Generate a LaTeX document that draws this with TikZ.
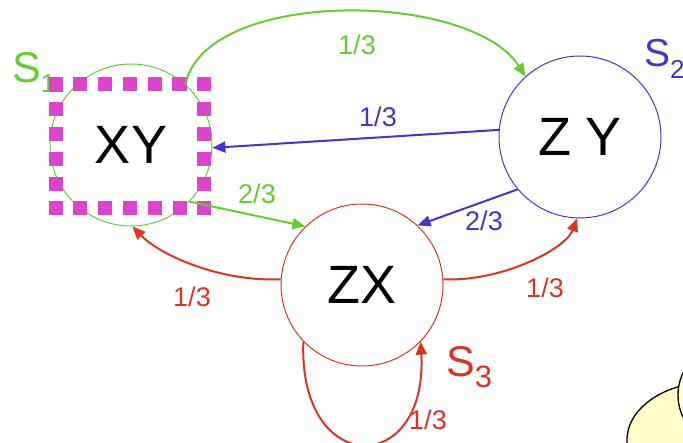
\documentclass[tikz,border=0pt]{standalone}
\usepackage{fontspec}
\setmainfont{Liberation Sans}
\usetikzlibrary{arrows.meta}
\definecolor{cgreen}{HTML}{66CC33}
\definecolor{cblue}{HTML}{4433CC}
\definecolor{cred}{HTML}{DD3322}
\definecolor{cmag}{HTML}{DD44CC}
\definecolor{ccloud}{HTML}{FFFFCC}
\begin{document}
\begin{tikzpicture}[x=1pt,y=-1pt,
 state/.style={circle, draw, line width=1pt, minimum size=162pt, inner sep=0pt, font=\fontsize{54}{54}\selectfont},
 edge/.style={line width=2pt, -{Triangle[length=13pt,width=11pt]}},
 lbl/.style={font=\fontsize{27}{27}\selectfont, inner sep=0pt},
 slbl/.style={font=\fontsize{43}{43}\selectfont, inner sep=0pt, anchor=base west},
 cloudpart/.style={fill=ccloud, draw=black, line width=1.3pt}]
\useasboundingbox (0,0) rectangle (683,443);
% cloud
\filldraw[cloudpart] (712,440) ellipse [x radius=85, y radius=58];
\filldraw[cloudpart] (712,395) ellipse [x radius=34, y radius=42];
% states
\node[state, draw=cgreen] (xy) at (131,145) {XY};
\node[state, draw=cblue] (zy) at (580,137) {Z Y};
\node[state, draw=cred] (zx) at (362,285) {ZX};
% set labels
\node[slbl, text=cgreen] (s1) at (12,83) {S\raisebox{-10pt}{\fontsize{26}{26}\selectfont 1}};
\node[slbl, text=cblue, font=\fontsize{39}{39}\selectfont] (s2) at (644,67) {S\raisebox{-12pt}{\fontsize{26}{26}\selectfont 2}};
\node[slbl, text=cred] (s3) at (446,377) {S\raisebox{-11pt}{\fontsize{31}{31}\selectfont 3}};
% magenta dotted square
\draw[cmag, line width=14pt, line cap=rect, dash pattern=on 0.1pt off 24.7pt] (55.5,84.5) rectangle (204.3,208.5);
% connectors
\draw[edge, cgreen] (xy.48) .. controls (205,-12) and (470,-10) .. (zy.132);
\draw[edge, cblue] (zy.175) -- (xy.-2);
\draw[edge, cgreen] (xy.-44) -- (zx.134);
\draw[edge, cblue] (zy.220) -- (zx.47);
\draw[edge, cred] (zx.176) .. controls (220,282) and (160,255) .. (xy.-89);
\draw[edge, cred] (zx.4) .. controls (500,282) and (565,250) .. (zy.-92);
\draw[edge, cred] (zx.-136) .. controls (298,478) and (428,478) .. (zx.-44);
% edge labels
\node[lbl, text=cgreen] (l1) at (357,45) {1/3};
\node[lbl, text=cblue] (l2) at (378,117) {1/3};
\node[lbl, text=cgreen] (l3) at (257,194) {2/3};
\node[lbl, text=cblue] (l4) at (484,221) {2/3};
\node[lbl, text=cred] (l5) at (192,297) {1/3};
\node[lbl, text=cred] (l6) at (545,288) {1/3};
\node[lbl, text=cred] (l7) at (428,420) {1/3};
\end{tikzpicture}
\end{document}
